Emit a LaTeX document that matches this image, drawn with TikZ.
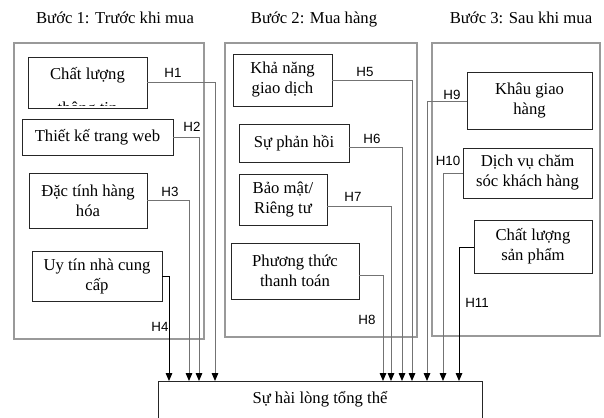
\documentclass[tikz,border=0pt]{standalone}
\usepackage{fontspec}
\setmainfont{Liberation Serif}
\newfontfamily\hfont{Liberation Sans}
\usetikzlibrary{arrows.meta}

\tikzset{khung/.style = {draw = black!40, line width = 0.8pt},
         hop/.style 2 args = {draw = black!85, line width = 0.6pt, align = center,
                              inner sep = 0pt, minimum width = #1*0.75pt,
                              minimum height = #2*0.75pt},
         tieude/.style = {anchor = base, font = \fontsize{12.5}{15}\selectfont},
         nhan/.style = {font = \hfont\fontsize{10}{12}\selectfont},
         noi/.style = {draw = black!55, line width = 0.7pt,
                       -{Triangle[length = 6pt, width = 5pt, color = black]}},
         every node/.style = {font = \fontsize{12.5}{15}\selectfont}
        }

\begin{document}
\begin{tikzpicture}[x = 0.75pt, y = -0.75pt]
  \useasboundingbox (0,0) rectangle (604,418);

  % tieu de ba buoc
  \node[tieude] (t1) at (115,23) {Bước 1: Trước khi mua};
  \node[tieude] (t2) at (314,23) {Bước 2: Mua hàng};
  \node[tieude] (t3) at (521,23) {Bước 3: Sau khi mua};

  % khung nhom
  \draw[khung] (14,43) rectangle (204,339);
  \draw[khung] (225,43) rectangle (417,337);
  \draw[khung] (432,43) rectangle (600,336);

  % buoc 1
  \node[hop = {119}{51}] (b1) at (87.5,82.5) {};
  \begin{scope}
    \clip (b1.north west) rectangle (147,105);
    \node[tieude] (b1a) at (87.5,79) {Chất lượng};
    \node[tieude] (b1b) at (87.5,113) {thông tin};
  \end{scope}
  \node[hop = {151}{36}] (b2) at (97.5,137) {Thiết kế trang web};
  \node[hop = {118}{55}] (b3) at (88,200.5) {Đặc tính hàng\\hóa};
  \node[hop = {130}{50}] (b4) at (97,276) {Uy tín nhà cung\\cấp};

  % buoc 2
  \node[hop = {99}{52}] (b5) at (282.5,80) {Khả năng\\giao dịch};
  \node[hop = {110}{38}] (b6) at (294,143) {Sự phản hồi};
  \node[hop = {88}{51}] (b7) at (283,199.5) {Bảo mật/\\Riêng tư};
  \node[hop = {128}{56}] (b8) at (295,271) {Phương thức\\thanh toán};

  % buoc 3
  \node[hop = {125}{57}] (b9) at (529.5,100.5) {Khâu giao\\hàng};
  \node[hop = {129}{50}] (b10) at (527.5,173) {Dịch vụ chăm\\sóc khách hàng};
  \node[hop = {118}{53}] (b11) at (533,246.5) {Chất lượng\\sản phẩm};

  % ket qua
  \node[hop = {324}{60}, anchor = north] (kq) at (320,381) {};
  \node[tieude] (kqt) at (320,403) {Sự hài lòng tổng thể};

  % cac gia thuyet
  \draw[noi] (b1.east) -| (kq.north -| 215,0);
  \draw[noi] (b2.east) -| (kq.north -| 199,0);
  \draw[noi] (b3.east) -| (kq.north -| 189,0);
  \draw[noi, draw = black] (b4.east) -| (kq.north -| 169,0);
  \draw[noi] (b5.east) -| (kq.north -| 412,0);
  \draw[noi] ([yshift = -3.5pt]b6.east) -| (kq.north -| 402,0);
  \draw[noi] ([yshift = -5.5pt]b7.east) -| (kq.north -| 391,0);
  \draw[noi] ([yshift = -3pt]b8.east) -| (kq.north -| 383,0);
  \draw[noi] ([yshift = -1pt]b9.west) -| (kq.north -| 427,0);
  \draw[noi] (b10.west) -| (kq.north -| 443,0);
  \draw[noi, draw = black] ([yshift = -1pt]b11.west) -| (kq.north -| 459,0);

  \node[nhan] (h1) at (173,73) {H1};
  \node[nhan] (h2) at (192,127) {H2};
  \node[nhan] (h3) at (170,192) {H3};
  \node[nhan] (h4) at (160,327) {H4};
  \node[nhan] (h5) at (365,72) {H5};
  \node[nhan] (h6) at (372,139) {H6};
  \node[nhan] (h7) at (353,197) {H7};
  \node[nhan] (h8) at (367,320) {H8};
  \node[nhan] (h9) at (452,95) {H9};
  \node[nhan] (h10) at (448,161) {H10};
  \node[nhan] (h11) at (477,303) {H11};
\end{tikzpicture}
\end{document}
